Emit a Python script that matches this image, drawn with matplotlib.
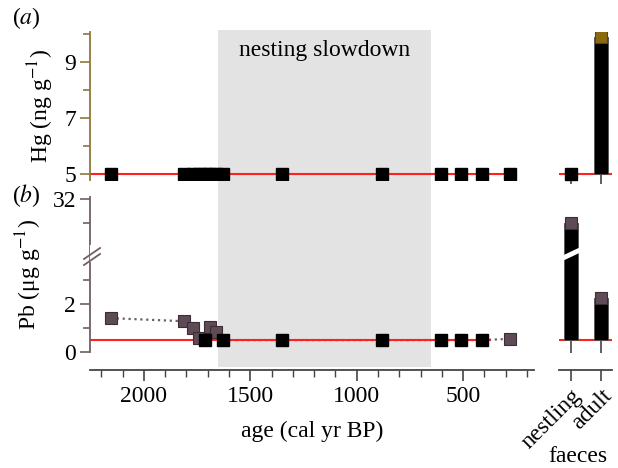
import numpy as np
import matplotlib
matplotlib.use("Agg")
from matplotlib import pyplot as plt
from matplotlib.ticker import MultipleLocator, FixedLocator
from matplotlib.lines import Line2D

plt.rcParams['font.family'] = ['Liberation Serif', 'DejaVu Serif']
plt.rcParams['mathtext.fontset'] = 'stix'

# sediment core samples (cal yr BP)
hg_age = [2155, 1810, 1770, 1740, 1715, 1690, 1660, 1630, 1350, 880, 605, 510, 410, 280]
hg_val = [5, 5, 5, 5, 5, 5, 5, 5, 5, 5, 5, 5, 5, 5]

pb_age = [2155, 1810, 1770, 1740, 1715, 1690, 1660, 1630, 1350, 880, 605, 510, 410, 280]
pb_val = [1.42, 1.29, 1.0, 0.58, 0.5, 1.04, 0.83, 0.5, 0.5, 0.5, 0.5, 0.5, 0.5, 0.55]
pb_below_dl = [False, False, False, False, True, False, False, True, True, True, True, True, True, False]

# detection limits
hg_dl = 5
pb_dl = 0.5

# faeces
faeces_cats = ['nestling', 'adult']
hg_faeces = [5, 9.9]
pb_faeces = [31.0, 2.25]

slowdown = (1653, 650)

HG_COL = '#8c7838'
HG_MARK = '#8a6a10'
PB_COL = '#6e5f64'
PB_MARK = '#5f4b57'
RED = '#ff2020'
AX_COL = '#444444'

W, H = 618, 468
fig = plt.figure(figsize=(W / 100, H / 100), dpi=100)


def box(x0, y0, x1, y1):
    return [x0 / W, 1 - y1 / H, (x1 - x0) / W, (y1 - y0) / H]


# broken Pb axis
LO, HI, G = 4.2, 29.8, 0.02


def fwd(y):
    y = np.asarray(y, float)
    return np.where(y <= LO, y, np.where(y >= HI, y - (HI - LO) + G, LO + (y - LO) * G / (HI - LO)))


def inv(t):
    t = np.asarray(t, float)
    return np.where(t <= LO, t, np.where(t >= LO + G, t + (HI - LO) - G, LO + (t - LO) * (HI - LO) / G))


XLIM = (2253, 167)
FS = 17

# gray shading behind both panels
bg = fig.add_axes(box(90, 30, 534, 367))
bg.set_xlim(XLIM)
bg.axvspan(*slowdown, color='#e3e3e3', lw=0)
bg.axis('off')
bg.text(np.mean(slowdown), 0.94, 'nesting slowdown', ha='center', va='center',
        fontsize=FS, transform=bg.get_xaxis_transform())


def style_left(ax, col):
    ax.patch.set_alpha(0)
    ax.set_xlim(XLIM)
    for s in ['top', 'right', 'bottom']:
        ax.spines[s].set_visible(False)
    ax.spines['left'].set_color(col)
    ax.spines['left'].set_linewidth(1.3)
    ax.tick_params(axis='x', bottom=False, labelbottom=False)
    ax.tick_params(axis='y', which='major', length=7, width=1.2, color=col, labelsize=FS, pad=3)
    ax.tick_params(axis='y', which='minor', length=5, width=1.2, color=col)


# (a) Hg
axa = fig.add_axes(box(90, 32, 534, 180))
style_left(axa, HG_COL)
axa.set_ylim(4.786, 10.071)
axa.yaxis.set_major_locator(FixedLocator([5, 7, 9]))
axa.yaxis.set_minor_locator(FixedLocator([6, 8, 10]))
axa.hlines(hg_dl, XLIM[0], 290, color=RED, lw=1.5, zorder=1)
axa.plot(hg_age, hg_val, 's', color='black', ms=8.6, mec='black', zorder=3)
axa.set_ylabel('Hg (ng g$^{-1}$)', fontsize=FS, labelpad=6)

# (b) Pb
axb = fig.add_axes(box(90, 197, 534, 352))
axb.set_yscale('function', functions=(fwd, inv))
style_left(axb, PB_COL)
axb.set_ylim(0, 32.08)
axb.yaxis.set_major_locator(FixedLocator([0, 2, 32]))
axb.yaxis.set_minor_locator(FixedLocator([1, 3, 31]))
axb.yaxis.set_major_formatter(matplotlib.ticker.FuncFormatter(lambda v, p: f'{v:g}'))
axb.plot(pb_age, pb_val, ':', color=PB_COL, lw=1.6, zorder=1)
axb.hlines(pb_dl, XLIM[0], 370, color=RED, lw=1.5, zorder=2)
meas = [(a, v) for a, v, b in zip(pb_age, pb_val, pb_below_dl) if not b]
bdl = [(a, v) for a, v, b in zip(pb_age, pb_val, pb_below_dl) if b]
axb.plot([m[0] for m in meas], [m[1] for m in meas], 's', color=PB_MARK, ms=8.6,
         mec='#3a2e33', mew=0.8, zorder=3)
axb.plot([m[0] for m in bdl], [m[1] for m in bdl], 's', color='black', ms=8.6, zorder=4)
axb.set_ylabel('Pb (μg g$^{-1}$)', fontsize=FS, labelpad=6)

# break marks on the Pb spine
fig.add_artist(Line2D([92 / W, 92 / W], [1 - 260 / H, 1 - 247 / H], color='white', lw=3))
for dy in (0, 6):
    fig.add_artist(Line2D([84 / W, 100 / W], [1 - (259 + dy) / H, 1 - (248 + dy) / H],
                          color=PB_COL, lw=1.3))

# age axis
axx = fig.add_axes(box(90, 369, 534, 369.5))
axx.set_xlim(XLIM)
axx.patch.set_alpha(0)
for s in ['top', 'right', 'left']:
    axx.spines[s].set_visible(False)
axx.spines['bottom'].set_color(AX_COL)
axx.spines['bottom'].set_linewidth(1.3)
axx.set_yticks([])
axx.xaxis.set_major_locator(MultipleLocator(500))
axx.xaxis.set_minor_locator(MultipleLocator(100))
axx.tick_params(axis='x', which='major', length=8, width=1.2, color=AX_COL, labelsize=FS, pad=4)
axx.tick_params(axis='x', which='minor', length=5, width=1.0, color=AX_COL)
axx.set_xlabel('age (cal yr BP)', fontsize=FS, labelpad=10)

# faeces panels
xpos = np.arange(len(faeces_cats))
FXLIM = (-0.4, 1.367)


def style_right(ax, tick_len):
    ax.patch.set_alpha(0)
    ax.set_xlim(FXLIM)
    for s in ax.spines.values():
        s.set_visible(False)
    ax.set_yticks([])
    ax.set_xticks(xpos)
    ax.tick_params(axis='x', direction='in', length=tick_len, width=1.2, color=AX_COL,
                   labelbottom=False)


axc = fig.add_axes(box(559, 32, 612, 184))
style_right(axc, 7)
axc.set_ylim(4.643, 10.071)
axc.axhline(hg_dl, color=RED, lw=1.5, zorder=1)
axc.bar(xpos, np.array(hg_faeces) - hg_dl, bottom=hg_dl, width=0.47, color='black',
        edgecolor='#555555', lw=0.6, zorder=2)
axc.plot(xpos[:1], hg_faeces[:1], 's', color='black', ms=8.6, zorder=3)
axc.plot(xpos[1:], hg_faeces[1:], 's', color=HG_MARK, ms=8.6, mec='#5a460a', mew=0.8, zorder=3)

axd = fig.add_axes(box(559, 197, 612, 353))
axd.set_yscale('function', functions=(fwd, inv))
style_right(axd, 9)
axd.set_ylim(-0.05, 32.08)
axd.axhline(pb_dl, color=RED, lw=1.5, zorder=1)
axd.bar(xpos, np.array(pb_faeces) - pb_dl, bottom=pb_dl, width=0.47, color='black',
        edgecolor='#555555', lw=0.6, zorder=2)
axd.plot(xpos, pb_faeces, 's', color=PB_MARK, ms=8.6, mec='#3a2e33', mew=0.8, zorder=3)
# break across the nestling bar
fig.add_artist(Line2D([561 / W, 580 / W], [1 - 259 / H, 1 - 250 / H], color='white', lw=3.5))

axe = fig.add_axes(box(559, 369, 612, 369.5))
axe.set_xlim(FXLIM)
axe.patch.set_alpha(0)
for s in ['top', 'right', 'left']:
    axe.spines[s].set_visible(False)
axe.spines['bottom'].set_color(AX_COL)
axe.spines['bottom'].set_linewidth(1.3)
axe.set_yticks([])
axe.set_xticks(xpos)
axe.set_xticklabels(faeces_cats, rotation=45, ha='right', rotation_mode='anchor', fontsize=FS)
axe.tick_params(axis='x', length=8, width=1.2, color=AX_COL, pad=3)
fig.text(578 / W, 1 - 456 / H, 'faeces', fontsize=FS, ha='center', va='center')

# panel labels
fig.text(12 / W, 1 - 18 / H, r'($\mathit{a}$)', fontsize=FS, va='center')
fig.text(12 / W, 1 - 196 / H, r'($\mathit{b}$)', fontsize=FS, va='center')

fig.savefig('out.png', dpi=100)
